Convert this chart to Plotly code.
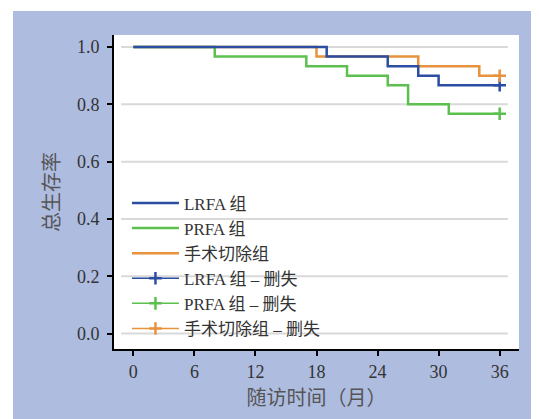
import plotly.graph_objects as go

# ---- data ----
lrfa_t = [0, 19, 25, 28, 30, 36]
lrfa_s = [1.0, 0.967, 0.933, 0.9, 0.867, 0.867]
prfa_t = [0, 8, 17, 21, 25, 27, 31, 36]
prfa_s = [1.0, 0.967, 0.933, 0.9, 0.867, 0.8, 0.767, 0.767]
surg_t = [0, 18, 28, 34, 36]
surg_s = [1.0, 0.967, 0.933, 0.9, 0.9]
censor_t = [36]
lrfa_c = [0.867]
prfa_c = [0.767]
surg_c = [0.9]
x_ticks = [0, 6, 12, 18, 24, 30, 36]
y_ticks = [0.0, 0.2, 0.4, 0.6, 0.8, 1.0]
y_ticklabels = ["0.0", "0.2", "0.4", "0.6", "0.8", "1.0"]
names = ["LRFA 组", "PRFA 组", "手术切除组"]

BLUE = "#2B4EA3"
GREEN = "#5CC04E"
ORANGE = "#E8923E"
BG = "#AEBCE0"

fig = go.Figure()
curves = [(surg_t, surg_s, ORANGE, names[2], 3),
          (prfa_t, prfa_s, GREEN, names[1], 2),
          (lrfa_t, lrfa_s, BLUE, names[0], 1)]
for t, s, c, n, r in curves:
    fig.add_trace(go.Scatter(x=t, y=s, mode="lines", line=dict(color=c, width=2.5, shape="hv"),
                             name=n, legendrank=r))
cens = [(lrfa_c, BLUE, names[0], 4), (prfa_c, GREEN, names[1], 5), (surg_c, ORANGE, names[2], 6)]
for s, c, n, r in cens:
    fig.add_trace(go.Scatter(x=censor_t, y=s, mode="lines+markers",
                             line=dict(color=c, width=1.5),
                             marker=dict(symbol="cross-thin", size=9, line=dict(color=c, width=2.5)),
                             name=n + " – 删失", legendrank=r))

# page body has an 8px margin; figure coords are window coords minus 8
OFF = 8
L, R, T, B = 114 - OFF, 28, 35 - OFF, 78
W, H = 539, 419
pw, ph = W - L - R, H - T - B

shapes = []
for yv in y_ticks:
    shapes.append(dict(type="line", xref="x", yref="y", x0=-1.2, x1=36.8, y0=yv, y1=yv,
                       line=dict(color="#D9D9D9", width=2), layer="below"))
# white outer strips (top and left)
shapes.append(dict(type="rect", xref="paper", yref="paper", x0=-2, x1=3,
                   y0=(H - B - (11 - OFF)) / ph, y1=3, fillcolor="white", line=dict(width=0),
                   layer="below"))
shapes.append(dict(type="rect", xref="paper", yref="paper", x0=-2, x1=((13 - OFF) - L) / pw,
                   y0=-2, y1=3, fillcolor="white", line=dict(width=0), layer="below"))

serif = "Liberation Serif, Noto Sans CJK SC"
fig.update_layout(
    width=W, height=H, margin=dict(l=L, r=R, t=T, b=B),
    paper_bgcolor=BG, plot_bgcolor="white",
    shapes=shapes,
    showlegend=True,
    legend=dict(x=0.032, y=0.521, xanchor="left", yanchor="top", bgcolor="rgba(0,0,0,0)",
                font=dict(family=serif, size=17, color="#333333"), tracegroupgap=0,
                itemwidth=47),
    xaxis=dict(range=[-1.9, 37.9], tickvals=x_ticks, showgrid=False, zeroline=False,
               showline=True, linecolor="black", linewidth=2, ticks="outside", ticklen=5,
               tickwidth=2, tickcolor="black",
               tickfont=dict(family=serif, size=18, color="#333333"),
               title=dict(text="随访时间（月）", font=dict(family="Noto Sans CJK SC", size=20, color="#555555"),
                          standoff=8)),
    yaxis=dict(range=[-0.054, 1.042], tickvals=y_ticks, ticktext=y_ticklabels, showgrid=False,
               zeroline=False, showline=True, linecolor="black", linewidth=2, ticks="outside",
               ticklen=5, tickwidth=2, tickcolor="black", ticklabelstandoff=4,
               tickfont=dict(family=serif, size=18, color="#333333"),
               title=dict(text="总生存率", font=dict(family="Noto Sans CJK SC", size=20, color="#555555"),
                          standoff=12)),
)
fig.write_html("out.html")
